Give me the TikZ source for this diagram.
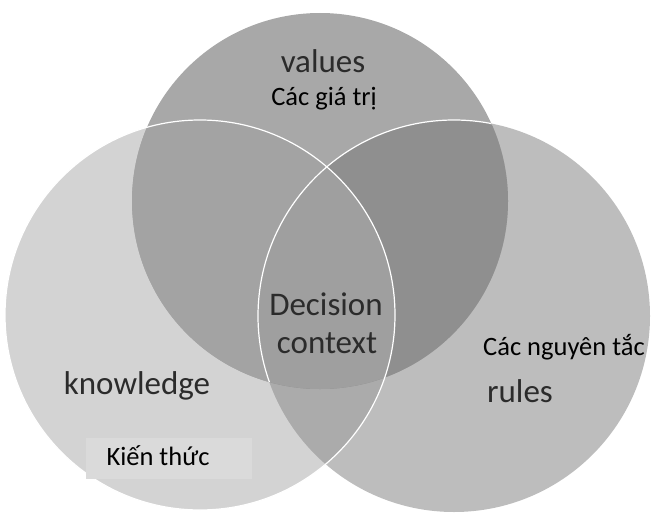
\documentclass[tikz,border=0pt]{standalone}
\usepackage{fontspec}
\setmainfont{Carlito}
\definecolor{Lcol}{HTML}{D3D3D3}
\definecolor{Rcol}{HTML}{BDBDBD}
\definecolor{Tcol}{HTML}{A8A8A8}
\definecolor{TLcol}{HTML}{A3A3A3}
\definecolor{TRcol}{HTML}{8F8F8F}
\definecolor{LRcol}{HTML}{ABABAB}
\definecolor{TLRcol}{HTML}{9F9F9F}
\definecolor{boxcol}{HTML}{DADADA}
\definecolor{engcol}{HTML}{2B2B2B}
\tikzset{
  eng/.style={anchor=base, inner sep=0pt, text=engcol, font=\fontsize{33}{40}\selectfont},
  viet/.style={anchor=base, inner sep=0pt, text=black, font=\fontsize{26.5}{32}\selectfont},
  rim/.style={draw=white, line width=1.2pt}
}
\begin{document}
\begin{tikzpicture}[x=1pt,y=1pt]
\useasboundingbox (0,0) rectangle (652,515);
\coordinate (T) at (320,314);
\coordinate (L) at (200,200);
\coordinate (R) at (454,199);
\def\rT{188}\def\rL{195}\def\rR{196}
% base fills
\fill[Lcol] (L) circle (\rL);
\fill[Rcol] (R) circle (\rR);
\fill[Tcol] (T) circle (\rT);
% overlaps
\begin{scope}\clip (L) circle (\rL); \fill[LRcol] (R) circle (\rR);\end{scope}
\begin{scope}\clip (T) circle (\rT); \fill[TLcol] (L) circle (\rL);\end{scope}
\begin{scope}\clip (T) circle (\rT); \fill[TRcol] (R) circle (\rR);\end{scope}
\begin{scope}\clip (T) circle (\rT); \clip (L) circle (\rL); \fill[TLRcol] (R) circle (\rR);\end{scope}
% white rims
\draw[rim] (L) circle (\rL);
\begin{scope}\clip (T) circle (\rT); \draw[rim] (R) circle (\rR);\end{scope}
% label box
\fill[boxcol] (86,36) rectangle (252,77);
% labels
\node[eng] (values) at (323,442) {values};
\node[viet] (cacgiatri) at (324,409) {Các giá trị};
\node[eng] (decision) at (326,200) {Decision};
\node[eng] (context) at (327,162) {context};
\node[eng] (knowledge) at (137,121) {knowledge};
\node[viet] (kienthuc) at (158,50) {Kiến thức};
\node[viet] (nguyentac) at (564,160) {Các nguyên tắc};
\node[eng] (rules) at (520,113) {rules};
\end{tikzpicture}
\end{document}
